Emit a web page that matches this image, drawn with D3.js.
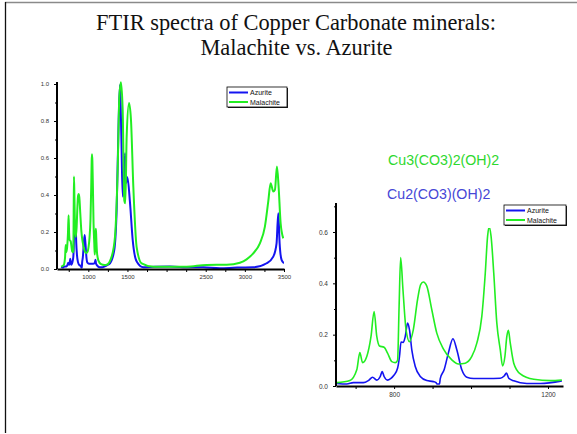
<!DOCTYPE html>
<html>
<head>
<meta charset="utf-8">
<script src="https://cdn.jsdelivr.net/npm/d3@7"></script>
<style>
body { margin: 0; background: #fff; }
svg { display: block; }
</style>
</head>
<body>
<svg id="chart" width="577" height="434"></svg>
<script>
'use strict';

// title lines
const titleLines = ["FTIR spectra of Copper Carbonate minerals:", "Malachite vs. Azurite"];
const formulas = ["Cu3(CO3)2(OH)2", "Cu2(CO3)(OH)2"];
const seriesNames = ["Azurite", "Malachite"];

// [wavenumber, absorbance] (650 - 1240)
const azuriteLow = [
    [651, 0.010], [677, 0.008], [694, 0.013], [720, 0.013], [733, 0.021], [744, 0.034],
    [755, 0.023], [764, 0.037], [769, 0.056], [774, 0.037], [783, 0.023], [791, 0.029],
    [800, 0.043], [809, 0.069], [814, 0.115], [818, 0.171], [824, 0.170], [829, 0.193],
    [835, 0.245], [840, 0.219], [846, 0.141], [855, 0.076], [868, 0.037], [885, 0.021],
    [902, 0.017], [909, 0.013], [911, 0.008], [918, 0.008], [920, 0.029], [930, 0.063],
    [941, 0.128], [953, 0.184], [963, 0.141], [976, 0.063], [989, 0.034], [1007, 0.029],
    [1041, 0.029], [1076, 0.030], [1086, 0.039], [1092, 0.050], [1098, 0.030], [1111, 0.020],
    [1145, 0.010], [1180, 0.010], [1236, 0.020]
];
const malachiteLow = [
    [651, 0.013], [685, 0.021], [703, 0.063], [711, 0.130], [718, 0.091], [729, 0.115],
    [740, 0.193], [748, 0.290], [755, 0.193], [762, 0.156], [774, 0.151], [783, 0.128],
    [794, 0.095], [803, 0.091], [809, 0.100], [813, 0.310], [817, 0.500], [823, 0.376],
    [831, 0.220], [840, 0.173], [850, 0.220], [861, 0.337], [869, 0.395], [876, 0.405],
    [885, 0.389], [898, 0.297], [911, 0.206], [928, 0.145], [950, 0.102], [967, 0.086],
    [985, 0.089], [1002, 0.115], [1015, 0.167], [1028, 0.271], [1037, 0.440], [1043, 0.584],
    [1047, 0.620], [1052, 0.584], [1059, 0.440], [1067, 0.245], [1076, 0.141], [1082, 0.078],
    [1088, 0.115], [1093, 0.193], [1097, 0.217], [1102, 0.167], [1111, 0.089], [1128, 0.047],
    [1163, 0.026], [1206, 0.021], [1236, 0.023]
];

// rest of the full spectrum (1240 - 3500)
const azuriteHigh = [
    [1277, 0.031], [1332, 0.103], [1362, 0.320], [1388, 0.807], [1405, 0.996], [1422, 0.716],
    [1439, 0.392], [1452, 0.428], [1469, 0.626], [1482, 0.464], [1499, 0.496], [1533, 0.356],
    [1567, 0.157], [1618, 0.040], [1703, 0.009], [1850, 0.012], [2043, 0.013], [2250, 0.010],
    [2469, 0.009], [2682, 0.004], [2900, 0.008], [3107, 0.009], [3278, 0.031], [3363, 0.067],
    [3405, 0.139], [3427, 0.301], [3444, 0.139], [3469, 0.049], [3499, 0.031]
];
const malachiteHigh = [
    [1298, 0.067], [1341, 0.175], [1375, 0.536], [1396, 0.930], [1417, 1.010], [1439, 0.860],
    [1460, 0.370], [1473, 0.355], [1490, 0.716], [1520, 0.897], [1545, 0.807], [1575, 0.446],
    [1617, 0.120], [1681, 0.030], [1830, 0.012], [2256, 0.012], [2511, 0.022], [2767, 0.023],
    [2937, 0.034], [3022, 0.052], [3107, 0.085], [3192, 0.139], [3256, 0.229], [3299, 0.365],
    [3329, 0.464], [3363, 0.419], [3384, 0.428], [3410, 0.554], [3431, 0.446], [3457, 0.247],
    [3491, 0.166]
];

// axis ticks
const fullXTicks = [750, 1000, 1250, 1500, 1750, 2000, 2250, 2500, 2750, 3000, 3250, 3500];
const fullXLabels = [1000, 1500, 2500, 3000, 3500];
const fullYTicks = [0, 0.2, 0.4, 0.6, 0.8, 1.0];
const fullYMinor = [0.1, 0.3, 0.5, 0.7, 0.9];
const zoomXTicks = [700, 800, 900, 1000, 1100, 1200];
const zoomXLabels = [800, 1200];
const zoomYTicks = [0, 0.2, 0.4, 0.6];
const zoomYMinor = [0.1, 0.3, 0.5, 0.7];

const colors = ["#1414f0", "#22ee22"];

let svg = d3.select("#chart");
svg.append("rect").attr("width", 577).attr("height", 434).attr("fill", "#fff");

// page frame
svg.append("line").attr("x1", 5).attr("x2", 577).attr("y1", 2.5).attr("y2", 2.5)
    .attr("stroke", "#8a8a8a").attr("stroke-width", 1.5);
svg.append("line").attr("x1", 5.5).attr("x2", 5.5).attr("y1", 2).attr("y2", 433)
    .attr("stroke", "#111").attr("stroke-width", 1.3);

svg.append("text").attr("x", 296).attr("y", 30).attr("text-anchor", "middle")
    .style("font-family", "'Liberation Serif', 'Times New Roman', serif").style("font-size", "22.4px")
    .attr("fill", "#111").text(titleLines[0]);
svg.append("text").attr("x", 296.5).attr("y", 54.5).attr("text-anchor", "middle")
    .style("font-family", "'Liberation Serif', 'Times New Roman', serif").style("font-size", "22.4px")
    .attr("fill", "#111").text(titleLines[1]);

svg.append("text").attr("x", 388).attr("y", 165)
    .style("font-family", "'Liberation Sans', Arial, sans-serif").style("font-size", "14.2px")
    .attr("fill", "#2ed82e").text(formulas[0]);
svg.append("text").attr("x", 387).attr("y", 199)
    .style("font-family", "'Liberation Sans', Arial, sans-serif").style("font-size", "14.2px")
    .attr("fill", "#4646d6").text(formulas[1]);

function drawPanel(cfg) {
    let x = d3.scaleLinear().domain(cfg.xDomain).range([cfg.left, cfg.right]);
    let y = d3.scaleLinear().domain(cfg.yDomain).range([cfg.bottom, cfg.top]);
    let g = svg.append("g");

    g.append("clipPath").attr("id", cfg.id)
        .append("rect")
        .attr("x", cfg.left).attr("y", cfg.top - 4)
        .attr("width", cfg.right - cfg.left).attr("height", cfg.bottom - cfg.top + 4);

    let line = d3.line()
        .x(d => x(d[0]))
        .y(d => y(d[1]))
        .curve(d3.curveMonotoneX);

    cfg.series.forEach((s, i) => {
        g.append("path")
            .datum(s)
            .attr("clip-path", "url(#" + cfg.id + ")")
            .attr("fill", "none")
            .attr("stroke", colors[i])
            .attr("stroke-width", cfg.lineWidth)
            .attr("stroke-linejoin", "round")
            .attr("d", line);
    });

    let xAxis = d3.axisBottom(x)
        .tickValues(cfg.xTicks)
        .tickFormat(d => cfg.xLabels.includes(d) ? d : "")
        .tickSize(3)
        .tickSizeOuter(0)
        .tickPadding(3);
    let yAxis = d3.axisLeft(y)
        .tickValues(cfg.yTicks)
        .tickFormat(d3.format(".1f"))
        .tickSize(3)
        .tickSizeOuter(0)
        .tickPadding(5);
    let yMinor = d3.axisLeft(y).tickValues(cfg.yMinor).tickFormat("").tickSize(2).tickSizeOuter(0);

    let gx = g.append("g").attr("transform", "translate(0," + cfg.bottom + ")").call(xAxis);
    let gy = g.append("g").attr("transform", "translate(" + cfg.left + ",0)").call(yAxis);
    let gm = g.append("g").attr("transform", "translate(" + cfg.left + ",0)").call(yMinor);
    gm.select(".domain").remove();

    [gx, gy, gm].forEach(a => {
        a.selectAll(".domain").attr("stroke", "#000").attr("stroke-width", 2);
        a.selectAll(".tick line").attr("stroke", "#000").attr("stroke-width", 1);
        a.selectAll(".tick text")
            .style("font-family", "'Liberation Sans', Arial, sans-serif")
            .style("font-size", cfg.fontSize + "px")
            .attr("fill", "#333");
    });
    // axis lines run a bit past the plot corner
    gy.select(".domain").attr("d", "M0," + (cfg.axisTop) + "V" + cfg.bottom);

    // legend
    let lg = g.append("g").attr("transform", "translate(" + cfg.legend[0] + "," + cfg.legend[1] + ")");
    lg.append("rect").attr("x", 1).attr("y", 1).attr("width", cfg.legendW).attr("height", 20).attr("fill", "#222");
    lg.append("rect").attr("width", cfg.legendW).attr("height", 20).attr("fill", "#fff")
        .attr("stroke", "#000").attr("stroke-width", 0.8);
    seriesNames.forEach((name, i) => {
        let yy = 5.5 + i * 9.5;
        lg.append("line").attr("x1", 2).attr("x2", 21).attr("y1", yy).attr("y2", yy)
            .attr("stroke", colors[i]).attr("stroke-width", 2);
        lg.append("text").attr("x", 23).attr("y", yy + 2.5)
            .style("font-family", "'Liberation Sans', Arial, sans-serif").style("font-size", "7px")
            .attr("fill", "#111").text(name);
    });
}

drawPanel({
    id: "clipFull",
    xDomain: [600, 3500], yDomain: [0, 1.0],
    left: 57, right: 284, top: 84, bottom: 269, axisTop: 82,
    series: [azuriteLow.concat(azuriteHigh), malachiteLow.concat(malachiteHigh)],
    xTicks: fullXTicks, xLabels: fullXLabels, yTicks: fullYTicks, yMinor: fullYMinor,
    lineWidth: 2, fontSize: 6,
    legend: [227, 87], legendW: 60
});

drawPanel({
    id: "clipZoom",
    xDomain: [649, 1239], yDomain: [0, 0.6],
    left: 336, right: 563, top: 232, bottom: 386, axisTop: 203,
    series: [azuriteLow, malachiteLow],
    xTicks: zoomXTicks, xLabels: zoomXLabels, yTicks: zoomYTicks, yMinor: zoomYMinor,
    lineWidth: 1.6, fontSize: 6.5,
    legend: [504, 205], legendW: 62
});
</script>
</body>
</html>
